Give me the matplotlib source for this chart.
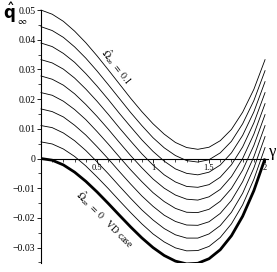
import numpy as np
import matplotlib
matplotlib.use("Agg")
import matplotlib.pyplot as plt
from matplotlib.ticker import MultipleLocator, FixedLocator

plt.rcParams['font.family'] = ['Liberation Serif', 'DejaVu Serif']
plt.rcParams['mathtext.fontset'] = 'stix'

# gamma grid, curve values (units of 1e-3)
gamma = [0.0, 0.1, 0.2, 0.3, 0.4, 0.5, 0.6, 0.7, 0.8, 0.9, 1.0,
         1.1, 1.2, 1.3, 1.4, 1.5, 1.6, 1.7, 1.8, 1.9, 2.0]

q_vd = [0.0, -0.57, -2.16, -4.59, -7.68, -11.25, -15.12, -19.11, -23.04, -26.73, -30.0,
        -32.67, -34.56, -35.49, -35.28, -33.75, -30.72, -26.01, -19.44, -10.83, 0.0]
q_1 = [5.6, 4.9, 3.2, 0.7, -2.5, -6.2, -10.1, -14.2, -18.2, -22.0, -25.4,
       -28.1, -30.1, -31.1, -31.0, -29.6, -26.6, -22.0, -15.6, -7.0, 3.7]
q_2 = [11.1, 10.4, 8.6, 6.0, 2.7, -1.1, -5.1, -9.3, -13.4, -17.3, -20.7,
       -23.6, -25.7, -26.8, -26.8, -25.4, -22.6, -18.1, -11.7, -3.2, 7.4]
q_3 = [16.7, 15.8, 14.0, 11.2, 7.9, 4.0, -0.1, -4.4, -8.6, -12.6, -16.1,
       -19.1, -21.2, -22.4, -22.5, -21.3, -18.5, -14.1, -7.8, 0.6, 11.1]
q_4 = [22.2, 21.3, 19.3, 16.5, 13.1, 9.1, 4.9, 0.5, -3.8, -7.8, -11.5,
       -14.5, -16.8, -18.1, -18.2, -17.1, -14.4, -10.1, -3.9, 4.4, 14.8]
q_5 = [27.8, 26.7, 24.7, 21.8, 18.2, 14.2, 9.9, 5.4, 1.0, -3.1, -6.9,
       -10.0, -12.3, -13.7, -14.0, -12.9, -10.4, -6.1, 0.0, 8.2, 18.5]
q_6 = [33.3, 32.2, 30.1, 27.1, 23.4, 19.3, 14.9, 10.3, 5.9, 1.6, -2.2,
       -5.5, -7.9, -9.4, -9.7, -8.8, -6.3, -2.1, 3.9, 12.0, 22.2]
q_7 = [38.9, 37.7, 35.4, 32.4, 28.6, 24.4, 19.9, 15.2, 10.7, 6.3, 2.4,
       -0.9, -3.5, -5.0, -5.5, -4.6, -2.2, 1.9, 7.8, 15.7, 25.9]
q_8 = [44.4, 43.1, 40.8, 37.6, 33.8, 29.5, 24.9, 20.2, 15.5, 11.1, 7.0,
       3.6, 1.0, -0.7, -1.2, -0.4, 1.9, 5.8, 11.7, 19.5, 29.6]
q_top = [50.0, 48.6, 46.2, 42.9, 39.0, 34.6, 29.9, 25.1, 20.3, 15.8, 11.7,
         8.2, 5.4, 3.7, 3.1, 3.8, 6.0, 9.8, 15.6, 23.3, 33.3]

thin_curves = [q_1, q_2, q_3, q_4, q_5, q_6, q_7, q_8, q_top]

fig = plt.figure(figsize=(2.77, 2.72), dpi=100)
ax = fig.add_axes([0.148, 0.033, 0.821, 0.930])

g = np.array(gamma)
for q in thin_curves:
    ax.plot(g, np.array(q) * 1e-3, color='black', lw=0.6, clip_on=False)
ax.plot(g, np.array(q_vd) * 1e-3, color='black', lw=2.0, solid_capstyle='butt')

ax.set_xlim(0, 2.03)
ax.set_ylim(-0.0352, 0.05)

ax.spines['top'].set_visible(False)
ax.spines['right'].set_visible(False)
ax.spines['bottom'].set_position(('data', 0))
ax.spines['left'].set_linewidth(0.8)
ax.spines['bottom'].set_linewidth(0.8)

ax.yaxis.set_major_locator(FixedLocator([-0.03, -0.02, -0.01, 0, 0.01, 0.02, 0.03, 0.04, 0.05]))
ax.yaxis.set_minor_locator(MultipleLocator(0.005))
ax.set_yticklabels(['\u22120.03', '\u22120.02', '\u22120.01', '0', '0.01', '0.02', '0.03', '0.04', '0.05'])
ax.tick_params(axis='y', which='major', direction='out', length=3, width=0.6, labelsize=7, pad=1)
ax.tick_params(axis='y', which='minor', direction='out', length=2, width=0.5)

ax.xaxis.set_major_locator(FixedLocator([0.5, 1, 1.5, 2]))
ax.xaxis.set_minor_locator(MultipleLocator(0.1))
ax.set_xticklabels(['0.5', '1', '1.5', '2'])
ax.tick_params(axis='x', which='major', direction='out', length=3, width=0.6, labelsize=6, pad=1)
ax.tick_params(axis='x', which='minor', direction='out', length=2, width=0.5)

# axis names
fig.text(0.012, 0.955, r'$\hat{\mathbf{q}}$', fontsize=12, math_fontfamily='dejavusans',
         va='center', ha='left')
fig.text(0.06, 0.922, r'$\infty$', fontsize=7, va='center', ha='left')
fig.text(0.983, 0.44, '\u03b3', fontsize=12, va='center', ha='center')

ax.text(0.68, 0.031, r'$\hat{\Omega}_\infty\ =\ 0.1$', fontsize=7, rotation=-52,
        ha='center', va='center')
ax.text(0.57, -0.0205, r'$\hat{\Omega}_\infty\ =\ 0$   VD case', fontsize=7, rotation=-45,
        ha='center', va='center')

fig.savefig('out.png', dpi=100)
